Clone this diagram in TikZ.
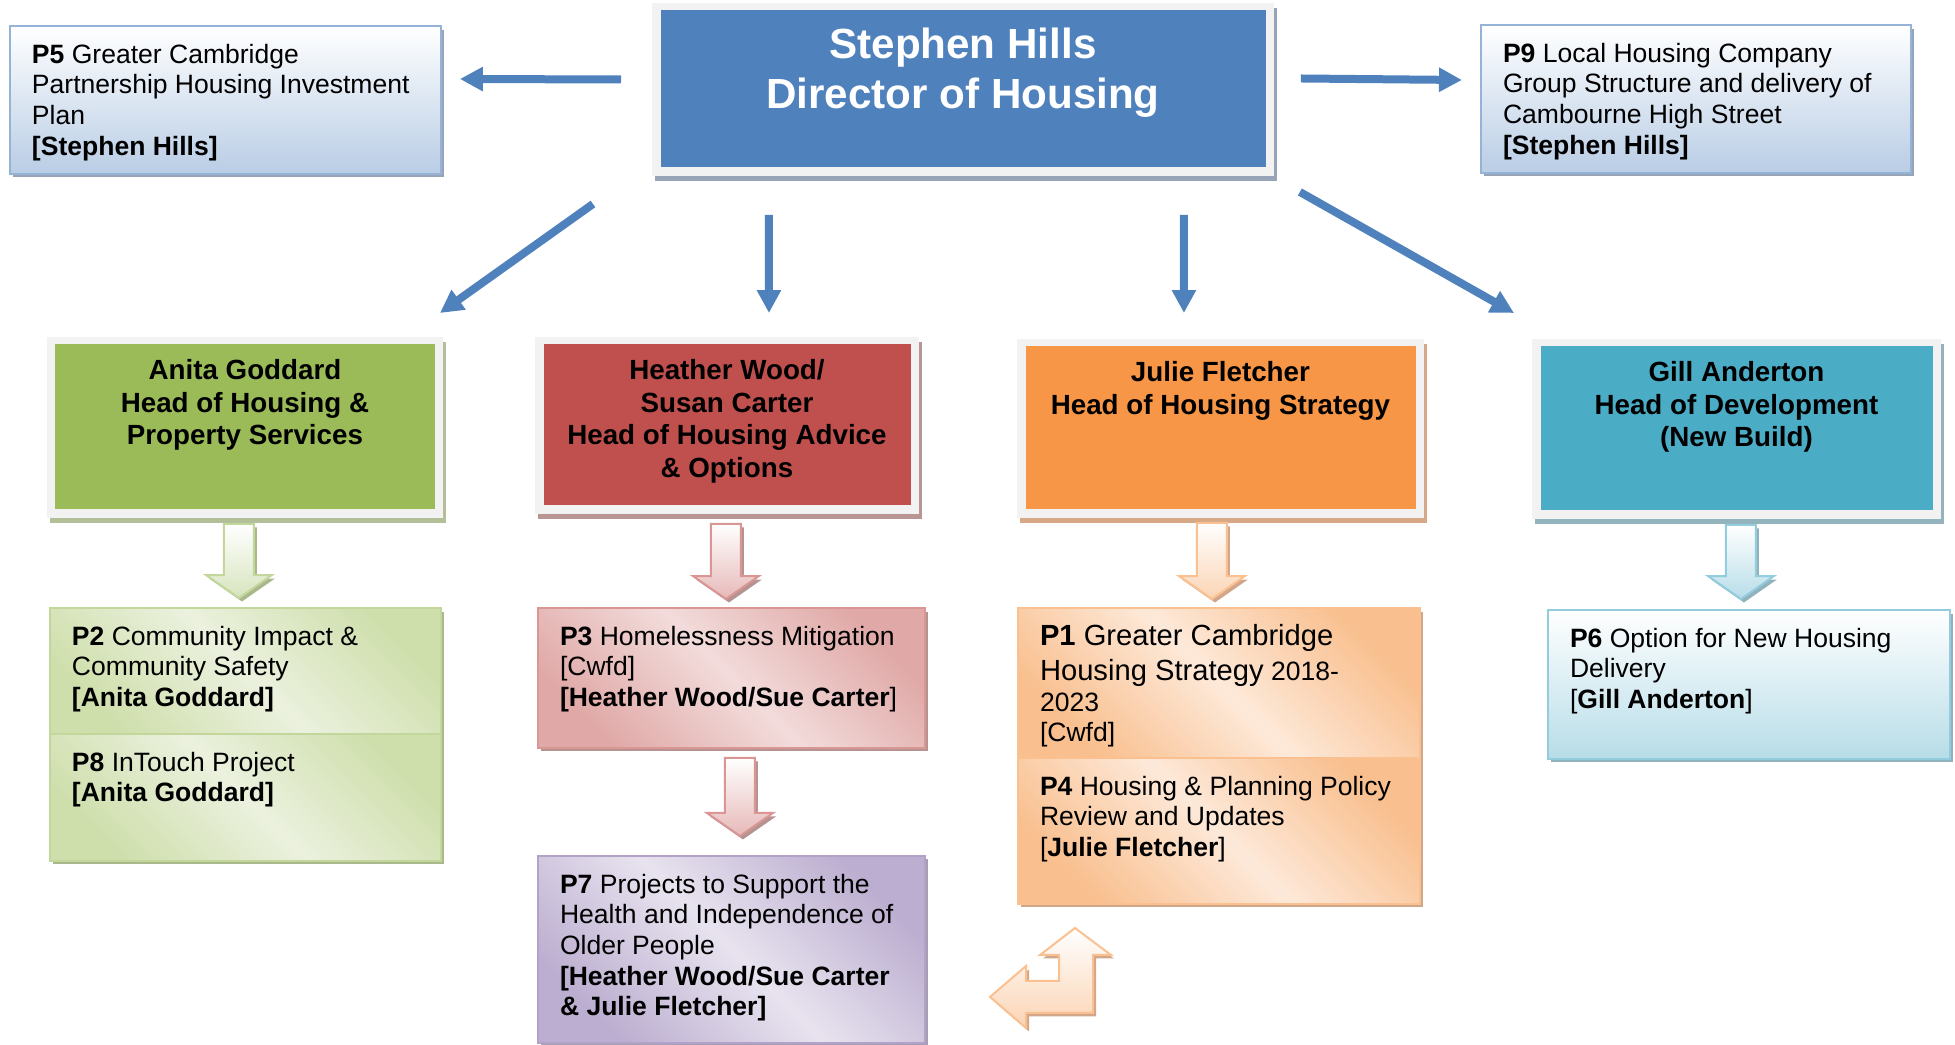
\documentclass[tikz,border=0pt]{standalone}
\usepackage{fontspec}
\setmainfont{Liberation Sans}
\usetikzlibrary{positioning,calc,shadows,arrows.meta}

% Colours of the heads, their projects and the shadows
\definecolor{framegray}{HTML}{F2F2F2}
\definecolor{dirblue}{HTML}{4F81BD}
\definecolor{dirshade}{HTML}{97A3B6}
\definecolor{agreen}{HTML}{9BBB59}
\definecolor{agshade}{HTML}{B3BF98}
\definecolor{hwred}{HTML}{C0504D}
\definecolor{hwshade}{HTML}{B99593}
\definecolor{jforange}{HTML}{F79646}
\definecolor{jfshade}{HTML}{D7A887}
\definecolor{gateal}{HTML}{4BACC6}
\definecolor{gashade}{HTML}{93B3BD}
\definecolor{bline}{HTML}{95B3D7}
\definecolor{bfill}{HTML}{B9CDE5}
\definecolor{bshade}{HTML}{97A4B7}
\definecolor{gline}{HTML}{C3D69B}
\definecolor{gdark}{HTML}{CFDFAC}
\definecolor{glight}{HTML}{EBF1DE}
\definecolor{gfill}{HTML}{D7E4BD}
\definecolor{gshade}{HTML}{A9B98C}
\definecolor{rline}{HTML}{D99694}
\definecolor{rdark}{HTML}{E0A9A7}
\definecolor{rlight}{HTML}{F2DCDB}
\definecolor{rfill}{HTML}{E6B9B8}
\definecolor{rshade}{HTML}{B59391}
\definecolor{vline}{HTML}{B3A2C7}
\definecolor{vdark}{HTML}{BCAED0}
\definecolor{vlight}{HTML}{E8E3EF}
\definecolor{vshade}{HTML}{A69EB2}
\definecolor{oline}{HTML}{FAC090}
\definecolor{odark}{HTML}{F9BF8E}
\definecolor{olight}{HTML}{FDE9D9}
\definecolor{ofill}{HTML}{FBD4B4}
\definecolor{oshade}{HTML}{D1A68A}
\definecolor{tline}{HTML}{93CDDD}
\definecolor{tfill}{HTML}{B7DDE8}
\definecolor{tshade}{HTML}{90B2BD}

\newcommand{\ptfont}{\fontsize{15.1pt}{17.4pt}\selectfont}
\newcommand{\bigfont}{\fontsize{16.6pt}{19pt}\selectfont}
\newcommand{\headfont}{\fontsize{15.8pt}{18.5pt}\selectfont\bfseries}
\newcommand{\dirfont}{\fontsize{24pt}{28.5pt}\selectfont\bfseries}
% text of a box: width, height, lines
\newcommand{\boxleft}[3]{\parbox[t][#2][t]{#1}{\raggedright\strut#3}}
\newcommand{\boxmid}[3]{\parbox[t][#2][t]{#1}{\centering\strut#3}}
% wide hollow arrow pointing down: from, to, style
\newcommand{\flowdown}[3]{%
  \draw[#3] let \p1=(#1), \p2=(#2) in
    (\x1-0.3cm,\y1) -- (\x1+0.3cm,\y1) -- (\x1+0.3cm,\y2+0.46cm)
    -- (\x1+0.66cm,\y2+0.46cm) -- (\x1,\y2) -- (\x1-0.66cm,\y2+0.46cm)
    -- (\x1-0.3cm,\y2+0.46cm) -- cycle;}

\begin{document}
\begin{tikzpicture}[%
    x=0.02cm, y=-0.02cm,      % one unit per pixel of the sketch, y runs down
    >={Triangle[length=0.46cm, width=0.46cm]},
    ]
% -------------------------------------------------
% Box styles and connector styles
\tikzset{
  base/.style={anchor=north west, line width=0.04cm},
  head/.style 2 args={base, fill=framegray, inner xsep=0.3cm, inner ysep=0.4cm,
    font=\headfont,
    path picture={\fill[#1]
      ([shift={(0.17cm,-0.13cm)}]path picture bounding box.north west) rectangle
      ([shift={(-0.16cm,0.17cm)}]path picture bounding box.south east);},
    drop shadow={shadow xshift=0.06cm, shadow yshift=-0.1cm, fill=#2, opacity=1}},
  pbox/.style={base, inner xsep=0.44cm, inner ysep=0.32cm, font=\ptfont},
  shadowed/.style={drop shadow={shadow xshift=0.06cm, shadow yshift=-0.07cm,
    fill=#1, opacity=1}},
  vert/.style={top color=white, bottom color=#1},
  diag/.style 2 args={top color=#1, bottom color=#1, middle color=#2, shading angle=-45},
  link/.style={->, draw=dirblue, line width=0.16cm},
  flow/.style n args={3}{draw=#1, line width=0.04cm, top color=white,
    bottom color=#2, shadowed=#3},
}
\useasboundingbox (0,0) rectangle (1955,1045);
% -------------------------------------------------
% Director and the two projects beside him
\node[head={dirblue}{dirshade}, font=\dirfont, text=white] (dir) at (651,2)
  {\boxmid{11.84cm}{2.66cm}{Stephen Hills\\Director of Housing}};
\node[pbox, draw=bline, vert=bfill, shadowed=bshade] (p5) at (9,25)
  {\boxleft{7.74cm}{2.32cm}{\textbf{P5} Greater Cambridge\\Partnership Housing Investment\\Plan\\\textbf{[Stephen Hills]}}};
\node[pbox, draw=bline, vert=bfill, shadowed=bshade] (p9) at (1480,24)
  {\boxleft{7.72cm}{2.32cm}{\textbf{P9} Local Housing Company\\Group Structure and delivery of\\Cambourne High Street\\\textbf{[Stephen Hills]}}};

% Heads of service
\node[head={agreen}{agshade}] (ag) at (46,336)
  {\boxmid{7.32cm}{2.82cm}{Anita Goddard\\Head of Housing \&\\Property Services}};
\node[head={hwred}{hwshade}] (hw) at (534,336)
  {\boxmid{7.08cm}{2.74cm}{Heather Wood/\\Susan Carter\\Head of Housing Advice\\\& Options}};
\node[head={jforange}{jfshade}] (jf) at (1016,338)
  {\boxmid{7.54cm}{2.78cm}{Julie Fletcher\\Head of Housing Strategy}};
\node[head={gateal}{gashade}] (ga) at (1531,338)
  {\boxmid{7.58cm}{2.80cm}{Gill Anderton\\Head of Development\\(New Build)}};

% Projects
\node[pbox, draw=gline, diag={gdark}{glight}, shadowed=gshade] (p2) at (49,607)
  {\boxleft{6.94cm}{1.88cm}{\textbf{P2} Community Impact \&\\Community Safety\\\textbf{[Anita Goddard]}}};
\node[pbox, draw=gline, diag={gdark}{glight}, shadowed=gshade, below=-0.04cm of p2] (p8)
  {\boxleft{6.94cm}{1.90cm}{\textbf{P8} InTouch Project\\\textbf{[Anita Goddard]}}};
\node[pbox, draw=rline, diag={rdark}{rlight}, shadowed=rshade] (p3) at (537,607)
  {\boxleft{6.86cm}{2.16cm}{\textbf{P3} Homelessness Mitigation\\{}[Cwfd]\\\textbf{[Heather Wood/Sue Carter}]}};
\node[pbox, draw=vline, diag={vdark}{vlight}, shadowed=vshade, below=2.12cm of p3] (p7)
  {\boxleft{6.86cm}{3.10cm}{\textbf{P7} Projects to Support the\\Health and Independence of\\Older People\\\textbf{[Heather Wood/Sue Carter}\\\textbf{\& Julie Fletcher]}}};
\node[pbox, draw=oline, diag={odark}{olight}, shadowed=oshade] (p1) at (1017,607)
  {\boxleft{7.16cm}{2.36cm}{{\bigfont\textbf{P1} Greater Cambridge\\[0.09cm]Housing Strategy} 2018-\\2023\\{}[Cwfd]}};
\node[pbox, draw=oline, diag={odark}{olight}, shadowed=oshade, below=-0.04cm of p1] (p4)
  {\boxleft{7.16cm}{2.28cm}{\textbf{P4} Housing \& Planning Policy\\Review and Updates\\{}[\textbf{Julie Fletcher}]}};
\node[pbox, draw=tline, vert=tfill, shadowed=tshade] (p6) at (1547,609)
  {\boxleft{7.16cm}{2.34cm}{\textbf{P6} Option for New Housing\\Delivery\\{}[\textbf{Gill Anderton}]}};

% -------------------------------------------------
% Director to everybody
\draw[link] ([shift={(-30,-10)}]dir.west) -- ([shift={(18,-21)}]p5.east);
\draw[link] ([shift={(26,-11)}]dir.east) -- ([shift={(-18,-19)}]p9.west);
\draw[link] ([shift={(-58,27)}]dir.south west) -- ([shift={(-4,-23)}]ag.north east);
\draw[link] ([shift={(-194,38)}]dir.south) -- ([shift={(42,-23)}]hw.north);
\draw[link] ([shift={(221,38)}]dir.south) -- ([shift={(-36.5,-25)}]jf.north);
\draw[link] ([shift={(25,15)}]dir.south east) -- ([shift={(-17,-25)}]ga.north west);

% Heads to their projects
\flowdown{[shift={(-6,5)}]ag.south}{[shift={(0,-9)}]p2.north}{flow={gline}{gfill}{gshade}}
\flowdown{[shift={(-1,9)}]hw.south}{[shift={(0,-8)}]p3.north}{flow={rline}{rfill}{rshade}}
\flowdown{[shift={(8.5,9)}]p3.south}{[shift={(0,-19)}]p7.north}{flow={rline}{rfill}{rshade}}
\flowdown{[shift={(-8.5,4)}]jf.south}{[shift={(0,-8)}]p1.north}{flow={oline}{ofill}{oshade}}
\flowdown{[shift={(4.5,5)}]ga.south}{[shift={(0,-10)}]p6.north}{flow={tline}{tfill}{tshade}}

% P4 and P7 linked both ways
\coordinate (bend) at ([shift={(59,92)}]p4.south west);
\draw[flow={oline}{ofill}{oshade}, shift={(bend)}]
  (-1,-69) -- (35,-42) -- (17,-42) -- (17,16) -- (-50,16) -- (-50,31)
  -- (-86,0) -- (-50,-31) -- (-50,-16) -- (-17,-16) -- (-17,-42) -- (-36,-42) -- cycle;
% -------------------------------------------------
\end{tikzpicture}
\end{document}
